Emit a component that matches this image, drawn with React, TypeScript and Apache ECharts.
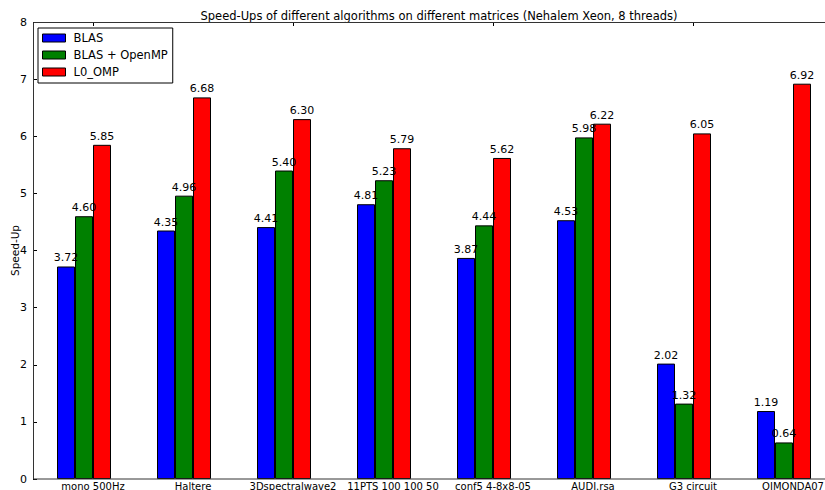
import React, { useEffect, useRef } from "react";
import * as echarts from "echarts";

const categories = ["mono 500Hz", "Haltere", "3Dspectralwave2", "11PTS 100 100 50", "conf5 4-8x8-05", "AUDI.rsa", "G3 circuit", "QIMONDA07"];
const blas = [3.72, 4.35, 4.41, 4.81, 3.87, 4.53, 2.02, 1.19];
const blasOmp = [4.60, 4.96, 5.40, 5.23, 4.44, 5.98, 1.32, 0.64];
const l0Omp = [5.85, 6.68, 6.30, 5.79, 5.62, 6.22, 6.05, 6.92];
const seriesNames = ["BLAS", "BLAS + OpenMP", "L0_OMP"];
const colors = ["#0000ff", "#008000", "#ff0000"];
const yTicks = [0, 1, 2, 3, 4, 5, 6, 7, 8];

const FONT = "DejaVu Sans";

export default function App() {
  const ref = useRef<HTMLDivElement>(null);
  useEffect(() => {
    if (!ref.current) return;
    const chart = echarts.init(ref.current, null, { renderer: "svg" });
    const mk = (name: string, data: (number | null)[], color: string) => ({
      name,
      type: "bar",
      data,
      barWidth: 18,
      barGap: "0%",
      itemStyle: { color, borderColor: "#000", borderWidth: 1 },
      label: {
        show: true,
        position: "top",
        distance: 3,
        fontFamily: FONT,
        fontSize: 11,
        color: "#000",
        formatter: (p: any) => Number(p.value).toFixed(2),
      },
    });
    // empty fourth slot so that the tick (label) position sits at the left edge of the red bar
    const spacer = { name: "spacer", type: "bar", data: categories.map(() => null), barWidth: 18, barGap: "0%" };
    chart.setOption({
      animation: false,
      backgroundColor: "#fff",
      title: {
        text: "Speed-Ups of different algorithms on different matrices (Nehalem Xeon, 8 threads)",
        left: 434,
        textAlign: "center",
        top: 5,
        textStyle: { fontFamily: FONT, fontSize: 11.5, fontWeight: "normal", color: "#000" },
      },
      legend: {
        orient: "vertical",
        left: 38,
        top: 28,
        itemWidth: 23,
        itemHeight: 8,
        itemGap: 5,
        padding: [4, 5, 5, 4],
        backgroundColor: "#fff",
        borderColor: "#000",
        borderWidth: 1,
        borderRadius: 0,
        icon: "rect",
        data: seriesNames,
        textStyle: { fontFamily: FONT, fontSize: 11.5, color: "#000", padding: [0, 0, 0, 3] },
        itemStyle: { borderColor: "#000", borderWidth: 1 },
      },
      grid: { left: 43, top: 22, width: 800, height: 457, containLabel: false, outerBoundsMode: "none" },
      xAxis: [
        {
          type: "category",
          data: categories,
          position: "bottom",
          axisLine: { show: false },
          axisTick: { show: true, inside: true, length: 4, alignWithLabel: true, lineStyle: { color: "#000" } },
          axisLabel: {
            fontFamily: FONT,
            fontSize: 10,
            lineHeight: 10,
            color: "#000",
            margin: 2,
            interval: 0,
          },
        },
        {
          type: "category",
          data: categories,
          position: "top",
          axisLine: { show: false },
          axisTick: { show: true, inside: true, length: 4, alignWithLabel: true, lineStyle: { color: "#000" } },
          axisLabel: { show: false },
        },
      ],
      yAxis: {
        type: "value",
        min: yTicks[0],
        max: yTicks[yTicks.length - 1],
        interval: 1,
        offset: 10,
        name: "Speed-Up",
        nameLocation: "middle",
        nameGap: 13,
        nameMoveOverlap: false,
        nameTextStyle: { fontFamily: FONT, fontSize: 10.5, color: "#000" },
        axisLine: { show: false },
        axisTick: { show: true, inside: true, length: 4, lineStyle: { color: "#000" } },
        splitLine: { show: false },
        axisLabel: { fontFamily: FONT, fontSize: 11, color: "#000", margin: 6 },
      },
      graphic: [
        {
          type: "rect",
          z: 100,
          shape: { x: 33.5, y: 22.5, width: 800, height: 456.5 },
          style: { fill: "none", stroke: "#333", lineWidth: 1 },
          silent: true,
        },
      ],
      series: [
        mk(seriesNames[0], blas, colors[0]),
        mk(seriesNames[1], blasOmp, colors[1]),
        mk(seriesNames[2], l0Omp, colors[2]),
        spacer,
      ],
    });
    return () => chart.dispose();
  }, []);
  return <div ref={ref} style={{ position: "fixed", left: 0, top: 0, width: 825, height: 490 }} />;
}
